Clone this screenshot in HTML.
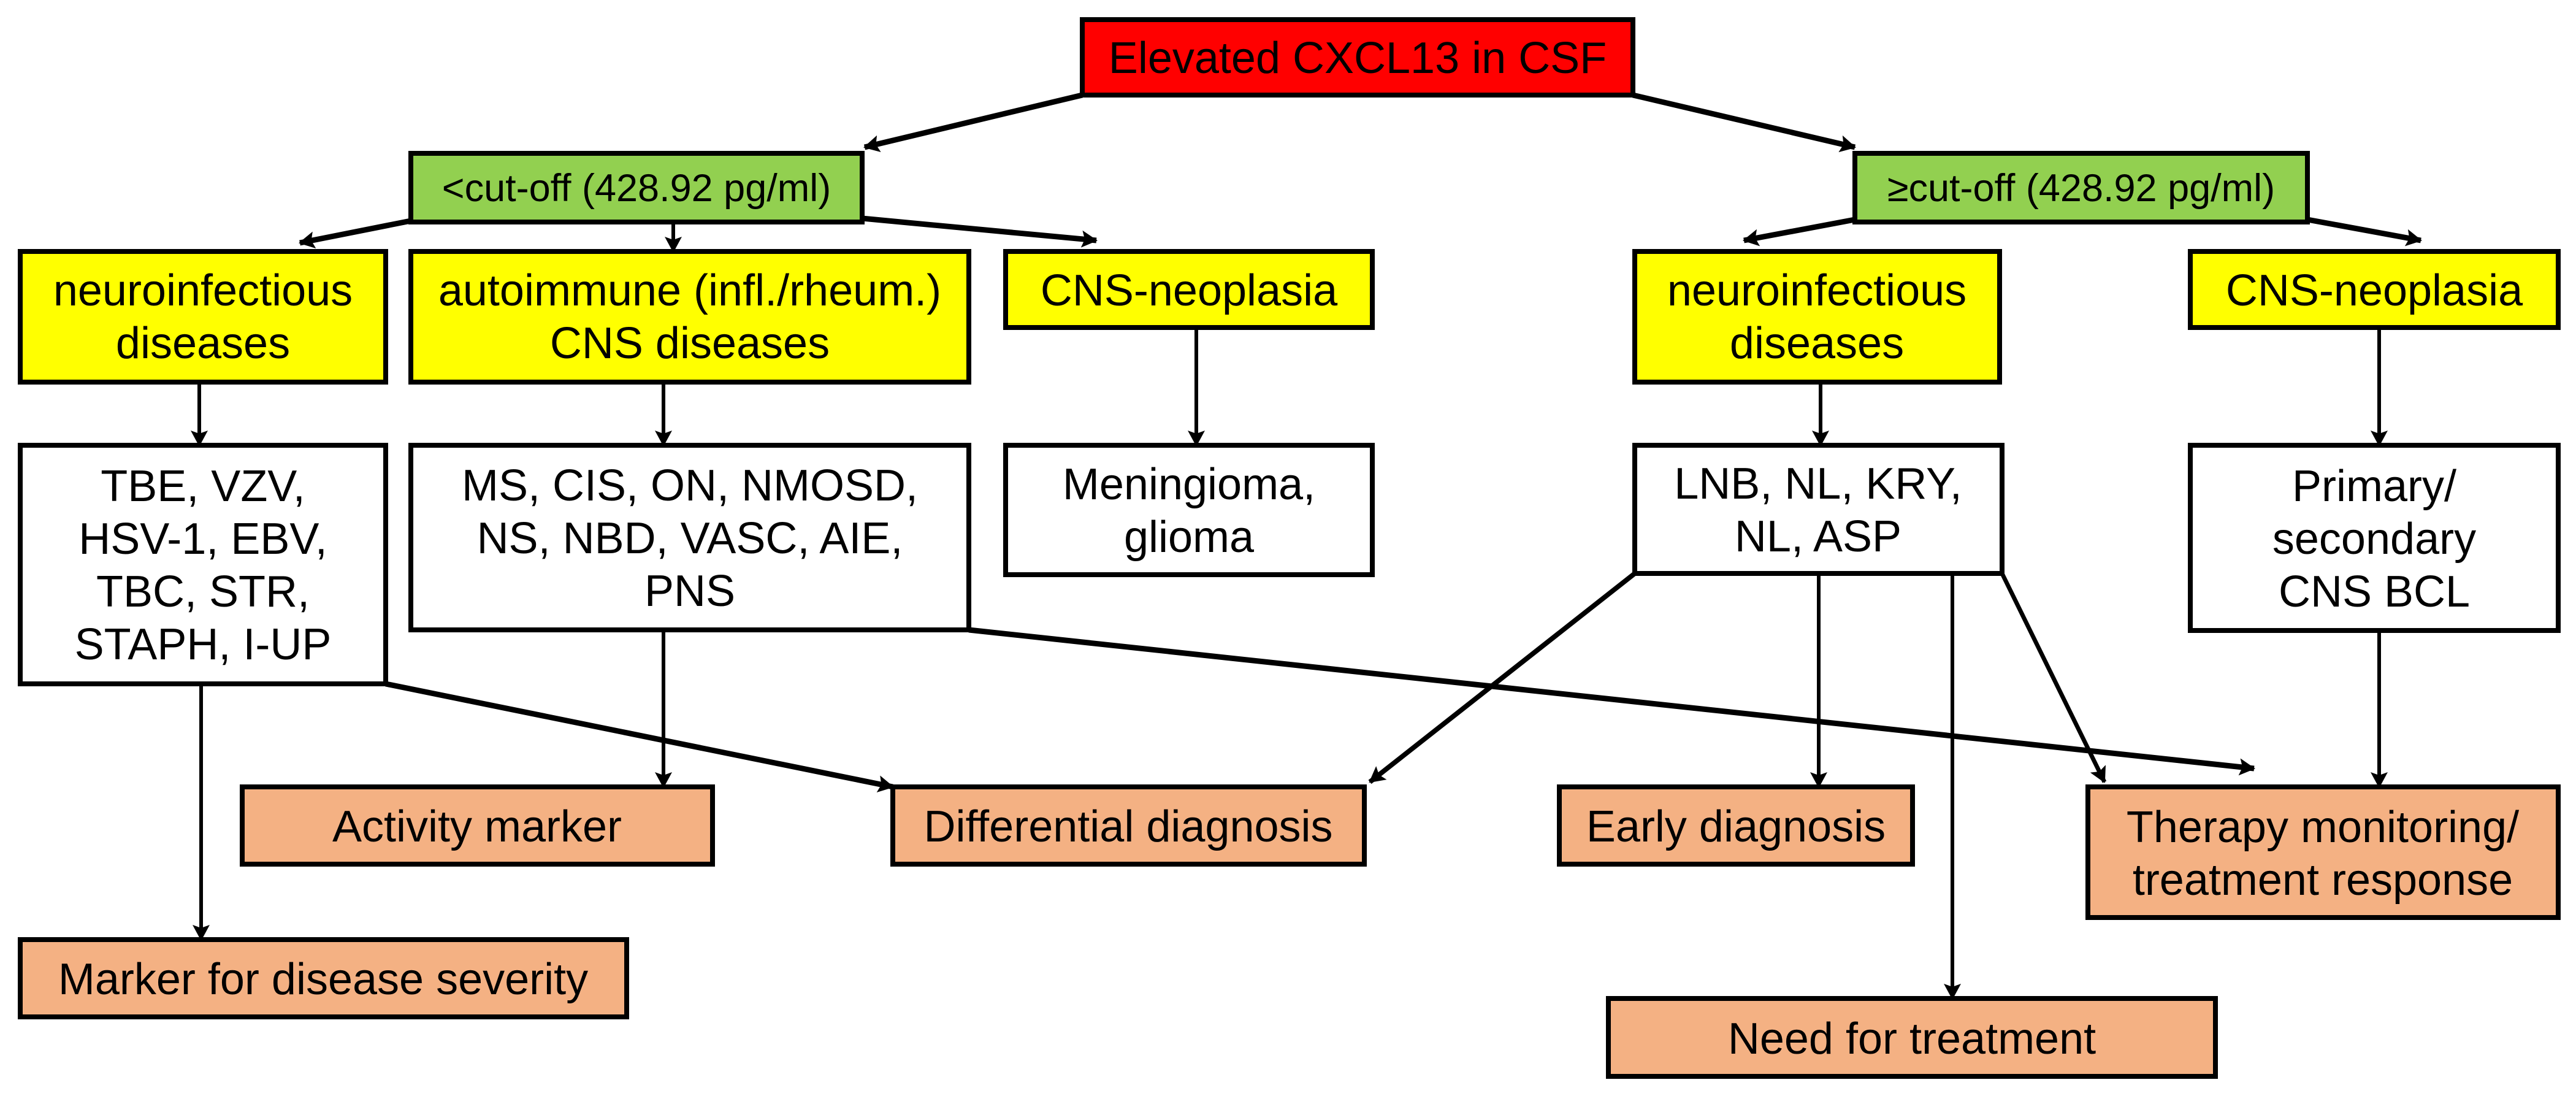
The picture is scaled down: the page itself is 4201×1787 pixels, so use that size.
<!DOCTYPE html>
<html><head><meta charset="utf-8"><style>html,body{margin:0;padding:0;background:#fff}svg{display:block}</style></head>
<body>
<svg width="4201" height="1787" viewBox="0 0 4201 1787" xmlns="http://www.w3.org/2000/svg" font-family="Liberation Sans, Arial, sans-serif" font-size="72" text-anchor="middle">
<defs>
<marker id="a" markerUnits="userSpaceOnUse" markerWidth="26" markerHeight="30" refX="24" refY="15" orient="auto"><path d="M0,1 L26,15 L0,29 L5,15 Z" fill="#000"/></marker>
</defs>
<g stroke="#000" fill="none" marker-end="url(#a)">
<line x1="1765" y1="155" x2="1410" y2="240" stroke-width="9"/>
<line x1="2663" y1="155" x2="3025" y2="240" stroke-width="9"/>
<line x1="670" y1="360" x2="489" y2="396" stroke-width="9"/>
<line x1="1098" y1="362" x2="1098" y2="410" stroke-width="6"/>
<line x1="1406" y1="356" x2="1788" y2="392" stroke-width="9"/>
<line x1="3025" y1="358" x2="2844" y2="392" stroke-width="9"/>
<line x1="3763" y1="358" x2="3948" y2="392" stroke-width="9"/>
<line x1="325" y1="623" x2="325" y2="726" stroke-width="6"/>
<line x1="1082" y1="623" x2="1082" y2="726" stroke-width="6"/>
<line x1="1951" y1="534" x2="1951" y2="726" stroke-width="6"/>
<line x1="2969" y1="623" x2="2969" y2="726" stroke-width="6"/>
<line x1="3880" y1="534" x2="3880" y2="726" stroke-width="6"/>
<line x1="328" y1="1115" x2="328" y2="1532" stroke-width="6"/>
<line x1="629" y1="1115" x2="1456" y2="1283" stroke-width="9"/>
<line x1="1082" y1="1027" x2="1082" y2="1283" stroke-width="6"/>
<line x1="1580" y1="1027" x2="3676" y2="1253" stroke-width="9"/>
<line x1="2666" y1="935" x2="2234" y2="1275" stroke-width="8"/>
<line x1="2966" y1="935" x2="2966" y2="1283" stroke-width="6"/>
<line x1="3184" y1="935" x2="3184" y2="1628" stroke-width="6"/>
<line x1="3265" y1="935" x2="3432" y2="1275" stroke-width="7"/>
<line x1="3880" y1="1028" x2="3880" y2="1283" stroke-width="6"/>
</g>
<g stroke="#000" stroke-width="8">
<rect x="1765" y="32" width="898" height="123" fill="#ff0000"/>
<rect x="670" y="250" width="736" height="112" fill="#92d050"/>
<rect x="3025" y="250" width="738" height="112" fill="#92d050"/>
<rect x="33" y="410" width="596" height="213" fill="#ffff00"/>
<rect x="670" y="410" width="910" height="213" fill="#ffff00"/>
<rect x="1640" y="410" width="598" height="124" fill="#ffff00"/>
<rect x="2666" y="410" width="595" height="213" fill="#ffff00"/>
<rect x="3572" y="410" width="600" height="124" fill="#ffff00"/>
<rect x="33" y="726" width="596" height="389" fill="#fff"/>
<rect x="670" y="726" width="910" height="301" fill="#fff"/>
<rect x="1640" y="726" width="598" height="211" fill="#fff"/>
<rect x="2666" y="726" width="599" height="209" fill="#fff"/>
<rect x="3572" y="726" width="600" height="302" fill="#fff"/>
<rect x="395" y="1283" width="767" height="126" fill="#f4b183"/>
<rect x="1456" y="1283" width="769" height="126" fill="#f4b183"/>
<rect x="2543" y="1283" width="576" height="126" fill="#f4b183"/>
<rect x="3405" y="1283" width="767" height="213" fill="#f4b183"/>
<rect x="33" y="1532" width="989" height="126" fill="#f4b183"/>
<rect x="2623" y="1628" width="990" height="127" fill="#f4b183"/>
</g>
<g fill="#000">
<text x="2214" y="119">Elevated CXCL13 in CSF</text>
<text x="1038" y="328" font-size="63">&lt;cut-off (428.92 pg/ml)</text>
<text x="3394" y="328" font-size="63">≥cut-off (428.92 pg/ml)</text>
<text x="331" y="498">neuroinfectious</text><text x="331" y="584">diseases</text>
<text x="1125" y="498">autoimmune (infl./rheum.)</text><text x="1125" y="584">CNS diseases</text>
<text x="1939" y="498">CNS-neoplasia</text>
<text x="2963" y="498">neuroinfectious</text><text x="2963" y="584">diseases</text>
<text x="3872" y="498">CNS-neoplasia</text>
<text x="331" y="817">TBE, VZV,</text><text x="331" y="903">HSV-1, EBV,</text><text x="331" y="989">TBC, STR,</text><text x="331" y="1075">STAPH, I-UP</text>
<text x="1125" y="816">MS, CIS, ON, NMOSD,</text><text x="1125" y="902">NS, NBD, VASC, AIE,</text><text x="1125" y="988">PNS</text>
<text x="1939" y="814">Meningioma,</text><text x="1939" y="900">glioma</text>
<text x="2965" y="813">LNB, NL, KRY,</text><text x="2965" y="899">NL, ASP</text>
<text x="3872" y="817">Primary/</text><text x="3872" y="903">secondary</text><text x="3872" y="989">CNS BCL</text>
<text x="778" y="1372">Activity marker</text>
<text x="1840" y="1372">Differential diagnosis</text>
<text x="2831" y="1372">Early diagnosis</text>
<text x="3788" y="1373">Therapy monitoring/</text><text x="3788" y="1459">treatment response</text>
<text x="527" y="1621">Marker for disease severity</text>
<text x="3118" y="1718">Need for treatment</text>
</g>
</svg>
</body></html>
